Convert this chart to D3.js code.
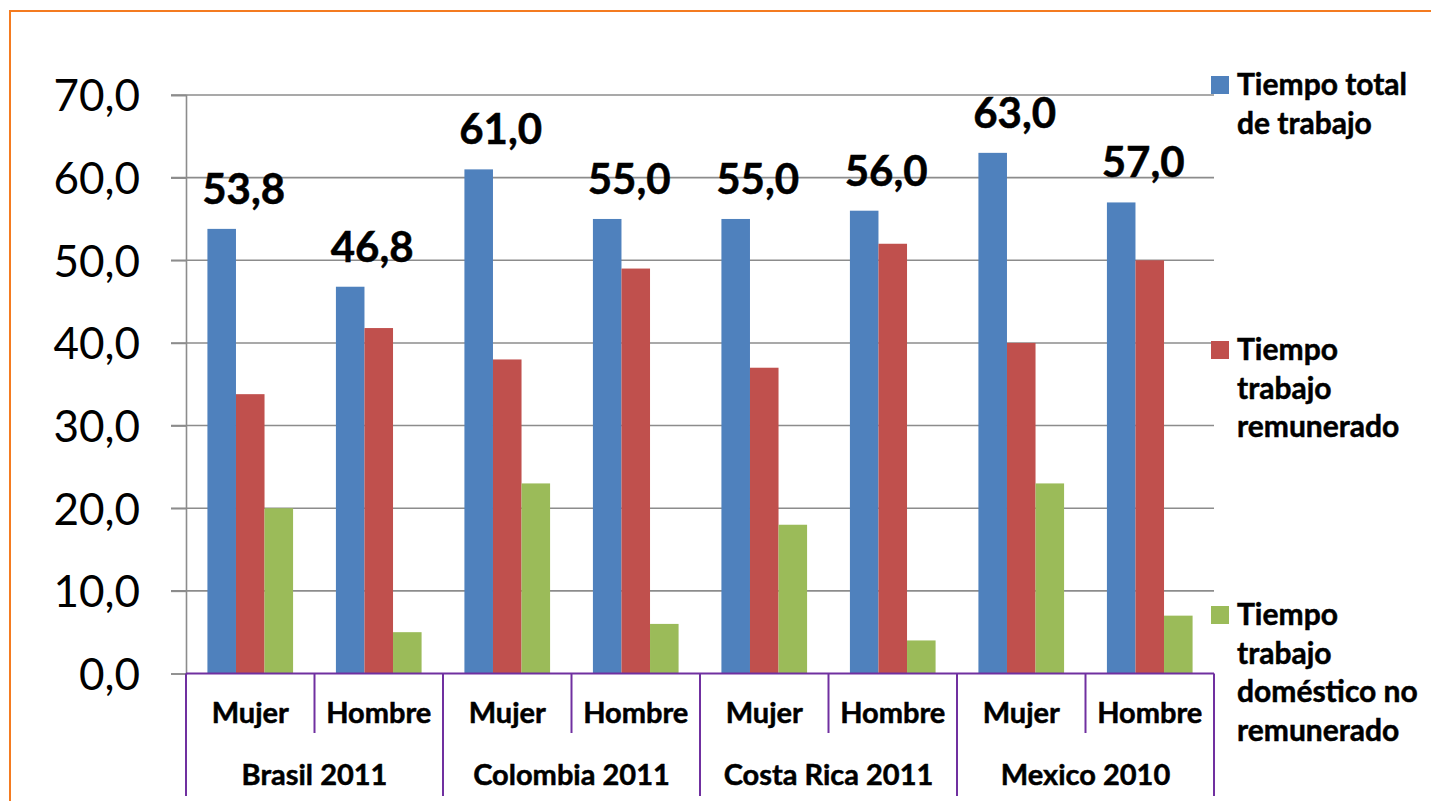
<!DOCTYPE html>
<html>
<head>
<meta charset="utf-8">
<script src="https://cdn.jsdelivr.net/npm/d3@7"></script>
<style>
  html, body { margin: 0; padding: 0; background: #ffffff; }
  svg { display: block; }
  text { font-family: Lato, "Open Sans", sans-serif; fill: #000; }
  .heavy { stroke: #000; stroke-width: 0.5px; }
</style>
</head>
<body>
<svg id="chart" width="1431" height="801"></svg>
<script>
// Horas semanales de trabajo por país y sexo
const countries = ["Brasil 2011", "Colombia 2011", "Costa Rica 2011", "Mexico 2010"];
const sexes = ["Mujer", "Hombre"];
const seriesNames = [
  "Tiempo total de trabajo",
  "Tiempo trabajo remunerado",
  "Tiempo trabajo doméstico no remunerado"
];
const totalTime = [53.8, 46.8, 61.0, 55.0, 55.0, 56.0, 63.0, 57.0];
const paidTime = [33.8, 41.8, 38.0, 49.0, 37.0, 52.0, 40.0, 50.0];
const unpaidTime = [20.0, 5.0, 23.0, 6.0, 18.0, 4.0, 23.0, 7.0];
const yTicks = [0, 10, 20, 30, 40, 50, 60, 70];
const legendLines = [
  ["Tiempo total", "de trabajo"],
  ["Tiempo", "trabajo", "remunerado"],
  ["Tiempo", "trabajo", "doméstico no", "remunerado"]
];

const colors = ["#4F81BD", "#C0504D", "#9BBB59"];
const purple = "#7030A0";
const gridColor = "#8c8c8c";
const fmt = v => d3.format(".1f")(v).replace(".", ",");

const svg = d3.select("#chart");

// marco exterior
svg.append("rect")
  .attr("x", 10).attr("y", 11)
  .attr("width", 1440).attr("height", 820)
  .attr("fill", "none").attr("stroke", "#F47B20").attr("stroke-width", 2);

const plotLeft = 186, plotRight = 1214, plotTop = 95, plotBottom = 673.5;

const cats = [];
countries.forEach(c => sexes.forEach(s => cats.push({ country: c, sex: s, key: c + "|" + s })));

const x0 = d3.scaleBand().domain(cats.map(d => d.key)).range([plotLeft, plotRight]).padding(0);
const x1 = d3.scaleBand().domain(seriesNames).range([0, x0.bandwidth()]).paddingInner(0).paddingOuter(0.75);
const y = d3.scaleLinear().domain([0, 70]).range([plotBottom, plotTop]);
const xc = d3.scaleBand().domain(countries).range([plotLeft, plotRight]).padding(0);

// líneas de cuadrícula
svg.append("g").selectAll("line").data(yTicks.filter(t => t > 0)).join("line")
  .attr("x1", plotLeft - 15).attr("x2", plotRight)
  .attr("y1", d => y(d)).attr("y2", d => y(d))
  .attr("stroke", gridColor).attr("stroke-width", 1.6);

// eje vertical
const yAxis = d3.axisLeft(y).tickValues(yTicks).tickSize(15).tickPadding(31).tickFormat(fmt);
const gy = svg.append("g").attr("transform", `translate(${plotLeft},0)`).call(yAxis);
gy.select(".domain").attr("stroke", gridColor).attr("stroke-width", 1.6);
gy.selectAll(".tick line").attr("stroke", gridColor).attr("stroke-width", 1.6);
gy.selectAll(".tick text")
  .style("font-family", "Lato, sans-serif").attr("font-size", 44).attr("dy", "0.36em").attr("fill", "#000");

// barras
const rows = cats.map((c, i) => ({ ...c, values: [totalTime[i], paidTime[i], unpaidTime[i]] }));
const groups = svg.append("g").selectAll("g").data(rows).join("g")
  .attr("transform", d => `translate(${x0(d.key)},0)`);
groups.selectAll("rect").data(d => d.values.map((v, j) => ({ v, name: seriesNames[j], j }))).join("rect")
  .attr("x", d => x1(d.name))
  .attr("width", x1.bandwidth())
  .attr("y", d => y(d.v))
  .attr("height", d => y(0) - y(d.v))
  .attr("fill", d => colors[d.j]);

// etiquetas del tiempo total
groups.append("text")
  .attr("class", "heavy")
  .attr("x", d => x1(seriesNames[0]) + x1.bandwidth() / 2 + 22)
  .attr("y", d => y(d.values[0]) - 25)
  .attr("text-anchor", "middle")
  .attr("font-size", 42).attr("font-weight", 700)
  .text(d => fmt(d.values[0]));

// eje horizontal (línea base morada)
svg.append("line").attr("x1", plotLeft).attr("x2", plotRight).attr("y1", plotBottom).attr("y2", plotBottom)
  .attr("stroke", purple).attr("stroke-width", 2);

// separadores de categoría
const innerEdges = cats.map(d => x0(d.key)).filter((_, i) => i % 2 === 1);
svg.append("g").selectAll("line").data(innerEdges).join("line")
  .attr("x1", d => d).attr("x2", d => d).attr("y1", plotBottom).attr("y2", 733)
  .attr("stroke", purple).attr("stroke-width", 2);
const outerEdges = countries.map(c => xc(c)).concat([plotRight]);
svg.append("g").selectAll("line").data(outerEdges).join("line")
  .attr("x1", d => d).attr("x2", d => d).attr("y1", plotBottom).attr("y2", 796)
  .attr("stroke", purple).attr("stroke-width", 2);

// etiquetas de sexo
svg.append("g").selectAll("text").data(cats).join("text")
  .attr("class", "heavy")
  .attr("x", d => x0(d.key) + x0.bandwidth() / 2)
  .attr("y", 723)
  .attr("text-anchor", "middle").attr("font-size", 29).attr("font-weight", 700)
  .text(d => d.sex);

// etiquetas de país
svg.append("g").selectAll("text").data(countries).join("text")
  .attr("class", "heavy")
  .attr("x", d => xc(d) + xc.bandwidth() / 2)
  .attr("y", 785)
  .attr("text-anchor", "middle").attr("font-size", 29).attr("font-weight", 700)
  .text(d => d);

// leyenda
const legendTop = [76, 341, 606];
const legend = svg.append("g").selectAll("g").data(seriesNames).join("g")
  .attr("transform", (d, i) => `translate(1211,${legendTop[i]})`);
legend.append("rect").attr("width", 18).attr("height", 18).attr("fill", (d, i) => colors[i]);
legend.append("text")
  .attr("class", "heavy")
  .attr("x", 26).attr("y", 19)
  .attr("font-size", 30).attr("font-weight", 700)
  .selectAll("tspan").data((d, i) => legendLines[i]).join("tspan")
  .attr("x", 26).attr("dy", (d, k) => k === 0 ? 0 : 38.5)
  .text(d => d);
</script>
</body>
</html>
